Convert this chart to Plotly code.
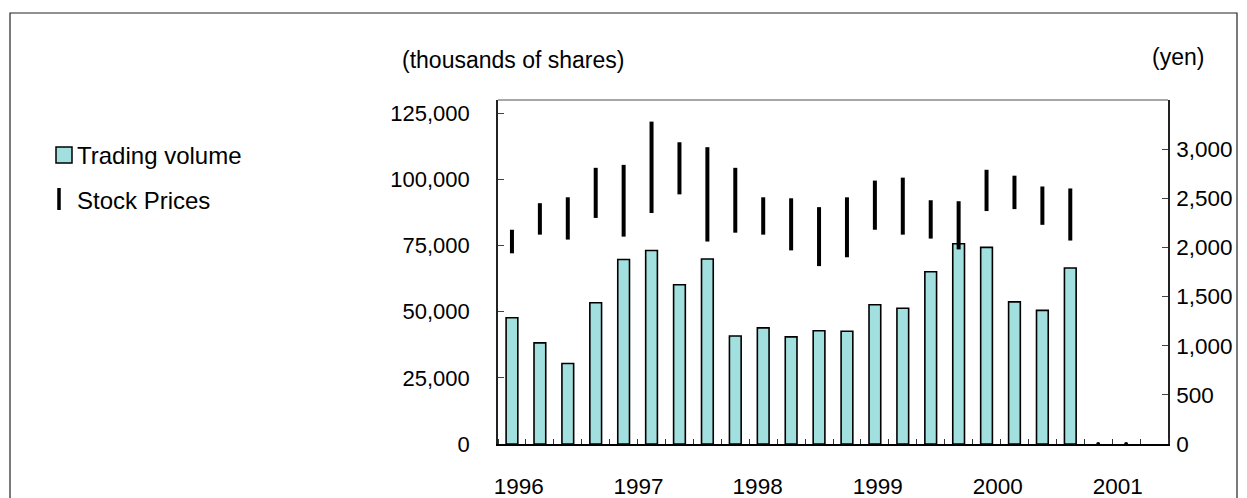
import plotly.graph_objects as go

# ---- data ----
quarters = [f"{y} Q{q}" for y in range(1996, 2002) for q in range(1, 5)]
volume = [47700, 38200, 30400, 53400, 69700, 73100, 60200, 69900,
          40800, 43900, 40500, 42800, 42600, 52600, 51300, 65100,
          75700, 74300, 53700, 50500, 66500, None, None, None]
price_high = [2180, 2450, 2510, 2810, 2840, 3280, 3070, 3020,
              2810, 2510, 2500, 2410, 2510, 2680, 2710, 2480,
              2470, 2790, 2730, 2620, 2600, 0, 0, None]
price_low = [1940, 2130, 2080, 2300, 2110, 2350, 2540, 2060,
             2150, 2130, 1970, 1810, 1900, 2180, 2130, 2090,
             1980, 2370, 2390, 2230, 2070, 0, 0, None]
year_labels = ["1996", "1997", "1998", "1999", "2000", "2001"]
year_label_pos = [0.24, 4.53, 8.80, 13.10, 17.40, 21.70]
left_ticks = [0, 25000, 50000, 75000, 100000, 125000]
right_ticks = [0, 500, 1000, 1500, 2000, 2500, 3000]

FONT = "Arial, 'Liberation Sans', sans-serif"
BAR_COLOR = "#A2E0E0"

W, H = 1247, 498
ML, MR, MT, MB = 498, 79, 100, 54
PW, PH = W - ML - MR, H - MT - MB


def px(x):
    return (x - ML) / PW


def py(y):
    return (H - MB - y) / PH


idx = list(range(len(quarters)))

fig = go.Figure()
fig.add_trace(go.Bar(
    x=idx, y=volume, width=0.42, name="Trading volume",
    marker=dict(color=BAR_COLOR, line=dict(color="black", width=1.6)),
    hovertext=quarters,
))

# vertical high-low lines for stock prices
lx, ly = [], []
dot_x, dot_y = [], []
for i, (hi, lo) in enumerate(zip(price_high, price_low)):
    if hi is None or lo is None:
        continue
    if hi == lo:
        dot_x.append(i)
        dot_y.append(hi)
        continue
    lx += [i, i, None]
    ly += [lo, hi, None]
fig.add_trace(go.Scatter(
    x=lx, y=ly, mode="lines", yaxis="y2", name="Stock Prices",
    line=dict(color="black", width=4),
))
fig.add_trace(go.Scatter(
    x=dot_x, y=dot_y, mode="markers", yaxis="y2", showlegend=False,
    marker=dict(color="black", size=4), cliponaxis=False,
))

fig.update_layout(
    width=W, height=H, template="none",
    margin=dict(l=ML, r=MR, t=MT, b=MB, pad=0),
    paper_bgcolor="white", plot_bgcolor="white",
    showlegend=False,
    font=dict(family=FONT, size=22, color="black"),
    xaxis=dict(
        range=[-0.5, 23.5], showgrid=False, zeroline=False,
        showline=True, linecolor="black", linewidth=1.6,
        tickvals=year_label_pos, ticktext=year_labels, ticks="",
        tickfont=dict(size=22.5), ticklabelstandoff=21,
        minor=dict(ticks="inside", tick0=-0.5, dtick=1, ticklen=5,
                   tickcolor="#333", tickwidth=1, showgrid=False),
        automargin=False,
    ),
    yaxis=dict(
        range=[0, 130000], tickvals=left_ticks, tickformat=",d",
        showgrid=False, zeroline=False, showline=True, linecolor="#222",
        linewidth=1.6, ticks="inside", ticklen=6, tickcolor="#444",
        tickfont=dict(size=22), ticklabelstandoff=22, automargin=False,
    ),
    yaxis2=dict(
        range=[0, 3500], tickvals=right_ticks, tickformat=",d",
        overlaying="y", side="right", showgrid=False, zeroline=False,
        showline=True, linecolor="#222", linewidth=1.6, ticks="inside",
        ticklen=6, tickcolor="#444", tickfont=dict(size=22.5),
        ticklabelstandoff=2, automargin=False,
    ),
)

shapes = [
    # plot area top edge (gray)
    dict(type="line", xref="paper", yref="paper", x0=0, x1=1, y0=1, y1=1,
         line=dict(color="#8a8a8a", width=1.5)),
    # outer chart frame
    dict(type="rect", xref="paper", yref="paper",
         x0=px(10), x1=px(1237), y0=py(520), y1=py(13),
         line=dict(color="#222", width=1.2), fillcolor="rgba(0,0,0,0)",
         layer="below"),
    # legend swatch for bars
    dict(type="rect", xref="paper", yref="paper",
         x0=px(56), x1=px(72), y0=py(163), y1=py(147),
         line=dict(color="black", width=1.5), fillcolor=BAR_COLOR),
    # legend swatch for stock price bars
    dict(type="line", xref="paper", yref="paper",
         x0=px(59), x1=px(59), y0=py(210), y1=py(188),
         line=dict(color="black", width=3.5)),
]
fig.update_layout(shapes=shapes)

annos = [
    dict(text="(thousands of shares)", x=px(400), y=py(60), xanchor="left",
         yanchor="middle", font=dict(size=23)),
    dict(text="(yen)", x=px(1150), y=py(57), xanchor="left",
         yanchor="middle", font=dict(size=23)),
    dict(text="Trading volume", x=px(75), y=py(155), xanchor="left",
         yanchor="middle", font=dict(size=24)),
    dict(text="Stock Prices", x=px(75), y=py(200), xanchor="left",
         yanchor="middle", font=dict(size=24)),
]
for a in annos:
    a.update(xref="paper", yref="paper", showarrow=False)
fig.update_layout(annotations=annos)

fig.write_html(
    "out.html",
    config={"displayModeBar": False},
    post_script="document.body.style.margin='0';"
                "document.body.style.overflow='hidden';",
)
